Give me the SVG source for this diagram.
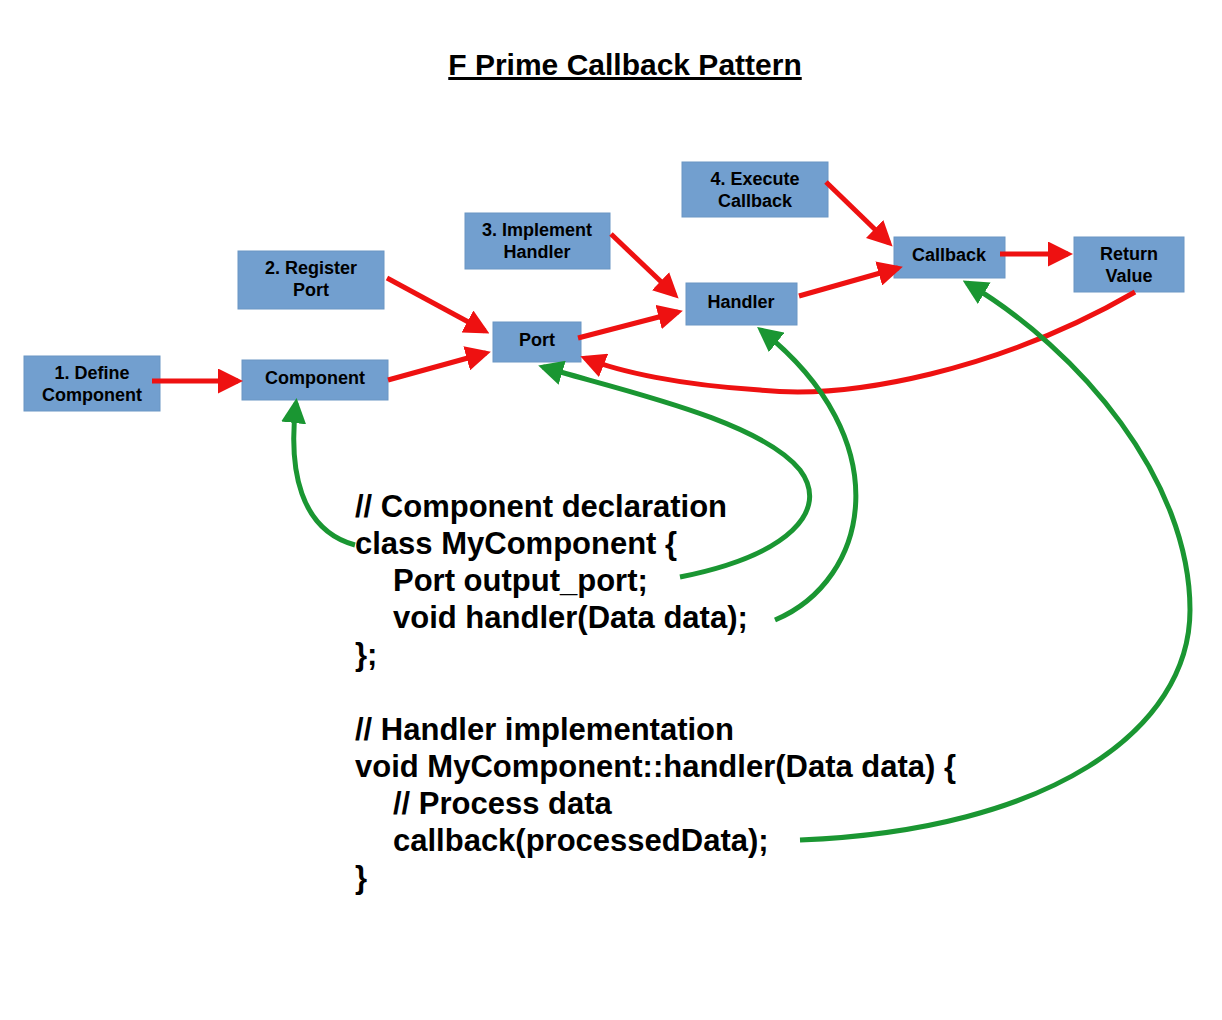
<svg xmlns="http://www.w3.org/2000/svg" width="1222" height="1020" viewBox="0 0 1222 1020">
<style>
.b{fill:#729fcf;stroke:#6a96c4;stroke-width:1}
.t{font-family:"Liberation Sans",Arial,sans-serif;font-weight:bold;font-size:18px;fill:#000;text-anchor:middle}
.c{font-family:"Liberation Sans",Arial,sans-serif;font-weight:bold;font-size:31px;fill:#000}
.r{fill:none;stroke:#ee1111;stroke-width:5;marker-end:url(#ar)}
.g{fill:none;stroke:#1a9632;stroke-width:5;marker-end:url(#ag)}
</style>
<defs>
<marker id="ar" markerWidth="5" markerHeight="5" refX="4" refY="2.5" orient="auto"><path d="M0,0L5,2.5L0,5z" fill="#ee1111"/></marker>
<marker id="ag" markerWidth="5" markerHeight="5" refX="4" refY="2.5" orient="auto"><path d="M0,0L5,2.5L0,5z" fill="#1a9632"/></marker>
</defs>
<rect width="1222" height="1020" fill="#fff"/>
<text x="625" y="75" font-family="Liberation Sans,Arial,sans-serif" font-weight="bold" font-size="30" text-anchor="middle" text-decoration="underline">F Prime Callback Pattern</text>
<g id="define"><rect class="b" x="24" y="356" width="136" height="55"/><text class="t" x="92" y="379">1. Define</text><text class="t" x="92" y="401">Component</text></g>
<g id="component"><rect class="b" x="242" y="360" width="146" height="40"/><text class="t" x="315" y="384">Component</text></g>
<g id="register"><rect class="b" x="238" y="251" width="146" height="58"/><text class="t" x="311" y="274">2. Register</text><text class="t" x="311" y="296">Port</text></g>
<g id="port"><rect class="b" x="493" y="322" width="88" height="40"/><text class="t" x="537" y="346">Port</text></g>
<g id="implement"><rect class="b" x="465" y="213" width="145" height="56"/><text class="t" x="537" y="236">3. Implement</text><text class="t" x="537" y="258">Handler</text></g>
<g id="handler"><rect class="b" x="686" y="283" width="111" height="42"/><text class="t" x="741" y="308">Handler</text></g>
<g id="execute"><rect class="b" x="682" y="162" width="146" height="55"/><text class="t" x="755" y="185">4. Execute</text><text class="t" x="755" y="207">Callback</text></g>
<g id="callback"><rect class="b" x="894" y="237" width="111" height="41"/><text class="t" x="949" y="261">Callback</text></g>
<g id="return"><rect class="b" x="1074" y="237" width="110" height="55"/><text class="t" x="1129" y="260">Return</text><text class="t" x="1129" y="282">Value</text></g>
<g id="connectors">
<path class="r" d="M152,381L238,381"/>
<path class="r" d="M388,380L486,353"/>
<path class="r" d="M387,278L485,331"/>
<path class="r" d="M578,338L678,312"/>
<path class="r" d="M611,234L675,295"/>
<path class="r" d="M799,296L898,268"/>
<path class="r" d="M826,182L889,243"/>
<path class="r" d="M1000,254L1068,254"/>
<path class="r" d="M1135,292C1000,370 850,400 760,390C680,385 620,372 585,358"/>
<path class="g" d="M355,545C300,530 288,470 296,403"/>
<path class="g" d="M680,577C790,555 830,510 800,470C760,420 620,390 543,367"/>
<path class="g" d="M775,620C870,580 900,440 761,330"/>
<path class="g" d="M800,840C1050,830 1190,730 1190,610C1190,480 1080,350 967,283"/>
</g>
<g id="code">
<text class="c" x="355" y="517">// Component declaration</text>
<text class="c" x="355" y="554">class MyComponent {</text>
<text class="c" x="393" y="591">Port output_port;</text>
<text class="c" x="393" y="628">void handler(Data data);</text>
<text class="c" x="355" y="665">};</text>
<text class="c" x="355" y="740">// Handler implementation</text>
<text class="c" x="355" y="777">void MyComponent::handler(Data data) {</text>
<text class="c" x="393" y="814">// Process data</text>
<text class="c" x="393" y="851">callback(processedData);</text>
<text class="c" x="355" y="888">}</text>
</g>
</svg>
